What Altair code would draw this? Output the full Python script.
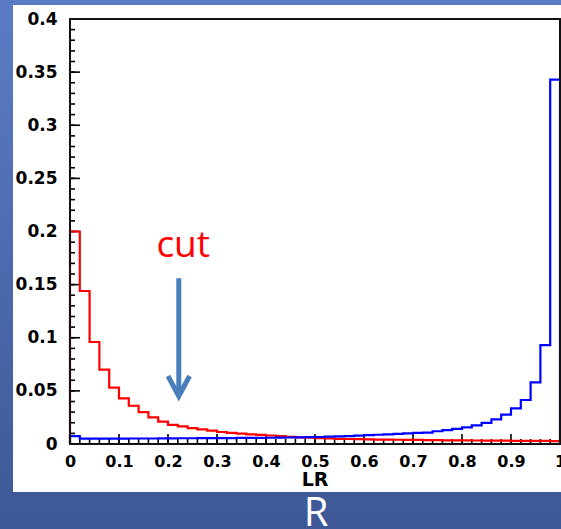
import altair as alt
import pandas as pd
import numpy as np

# ---- data ----
bin_width = 0.02
red_vals = [0.200, 0.144, 0.096, 0.070, 0.053, 0.043, 0.036, 0.030, 0.025, 0.021,
            0.018, 0.0165, 0.0150, 0.0138, 0.0125, 0.0113, 0.0104, 0.0097, 0.0091, 0.0086,
            0.0080, 0.0074, 0.0068, 0.0063, 0.0059, 0.0055, 0.0052, 0.0049, 0.0047, 0.0045,
            0.0043, 0.0042, 0.0041, 0.0040, 0.0039, 0.0038, 0.0037, 0.0036, 0.0035, 0.0034,
            0.0034, 0.0033, 0.0032, 0.0032, 0.0031, 0.0030, 0.0030, 0.0029, 0.0029, 0.0028]
blue_vals = [0.0075, 0.0050, 0.0050, 0.0051, 0.0051, 0.0051, 0.0052, 0.0052, 0.0052, 0.0053,
             0.0053, 0.0054, 0.0054, 0.0055, 0.0055, 0.0056, 0.0056, 0.0057, 0.0057, 0.0058,
             0.0059, 0.0060, 0.0061, 0.0062, 0.0064, 0.0066, 0.0069, 0.0072, 0.0075, 0.0079,
             0.0083, 0.0087, 0.0091, 0.0095, 0.0100, 0.0104, 0.0108, 0.0120, 0.0130, 0.0142,
             0.0156, 0.0176, 0.0198, 0.0232, 0.0276, 0.0336, 0.0414, 0.0580, 0.0930, 0.3430]
x_label_values = [0, 0.1, 0.2, 0.3, 0.4, 0.5, 0.6, 0.7, 0.8, 0.9, 1]
y_label_values = [0, 0.05, 0.1, 0.15, 0.2, 0.25, 0.3, 0.35, 0.4]
x_axis_title = "LR"
footer_text = "R"
cut_text = "cut"
cut_x = 0.222
cut_text_y = 0.176
cut_arrow_top = 0.156
cut_arrow_tip = 0.045

W, H = 490, 425

edges = [round(i * bin_width, 2) for i in range(len(red_vals))]


def outline(vals):
    xs = [0.0] + edges + [1.0, 1.0]
    ys = [0.0] + list(vals) + [vals[-1], 0.0]
    return pd.DataFrame({"x": xs, "y": ys, "i": range(len(xs))})


xs = alt.Scale(domain=[0, 1], nice=False, zero=False)
ys = alt.Scale(domain=[0, 0.4], nice=False)

lab_font = "DejaVu Sans"
x_axis = alt.Axis(values=x_label_values, format="~g", ticks=False, domain=False, grid=False,
                  labelFont=lab_font, labelFontWeight="bold", labelFontSize=16,
                  labelColor="black", labelPadding=9, title=None, labelFlush=False, zindex=2)
y_axis = alt.Axis(values=y_label_values, format="~g", ticks=False, domain=False, grid=False,
                  labelFont=lab_font, labelFontWeight="bold", labelFontSize=17,
                  labelColor="black", labelPadding=13, title=None, zindex=2)

# background gradient + white panel
bg = alt.Chart(pd.DataFrame({"a": [0]})).mark_rect(
    color=alt.Gradient(gradient="linear",
                       stops=[alt.GradientStop(color="#5b7cc5", offset=0),
                              alt.GradientStop(color="#3e5896", offset=1)],
                       x1=0, x2=0, y1=0, y2=1)
).encode(x=alt.value(-70), x2=alt.value(W + 1), y=alt.value(-19), y2=alt.value(H + 85))

panel = alt.Chart(pd.DataFrame({"a": [0]})).mark_rect(color="white").encode(
    x=alt.value(-57), x2=alt.value(W + 5), y=alt.value(-14), y2=alt.value(473))

# ticks
y_major = pd.DataFrame({"y": [round(v, 2) for v in np.arange(0, 0.4001, 0.05)]})
y_minor = pd.DataFrame({"y": [round(v, 2) for v in np.arange(0, 0.4001, 0.01)]})
x_major = pd.DataFrame({"x": [round(v, 2) for v in np.arange(0, 1.0001, 0.1)]})
x_minor = pd.DataFrame({"x": [round(v, 2) for v in np.arange(0, 1.0001, 0.02)]})

tick_y_major = alt.Chart(y_major).mark_rule(color="black", strokeWidth=1.6).encode(
    y=alt.Y("y:Q", scale=ys, axis=y_axis), x=alt.value(0), x2=alt.value(10))
tick_y_minor = alt.Chart(y_minor).mark_rule(color="black", strokeWidth=1.6).encode(
    y=alt.Y("y:Q", scale=ys, axis=y_axis), x=alt.value(0), x2=alt.value(5))
tick_x_major = alt.Chart(x_major).mark_rule(color="black", strokeWidth=1.6).encode(
    x=alt.X("x:Q", scale=xs, axis=x_axis), y=alt.value(H), y2=alt.value(H - 10))
tick_x_minor = alt.Chart(x_minor).mark_rule(color="black", strokeWidth=1.6).encode(
    x=alt.X("x:Q", scale=xs, axis=x_axis), y=alt.value(H), y2=alt.value(H - 5))


def hist(vals, color):
    return alt.Chart(outline(vals)).mark_line(
        interpolate="step-after", color=color, strokeWidth=2.2, clip=False
    ).encode(x=alt.X("x:Q", scale=xs, axis=x_axis),
             y=alt.Y("y:Q", scale=ys, axis=y_axis),
             order=alt.Order("i:Q"))


red = hist(red_vals, "#ff0000")
blue = hist(blue_vals, "#0000ff")

frame = alt.Chart(pd.DataFrame({"a": [0]})).mark_rect(
    fillOpacity=0, stroke="#111111", strokeWidth=2).encode(
    x=alt.value(0), x2=alt.value(W), y=alt.value(0), y2=alt.value(H))

# annotation: cut arrow
arrow_color = "#4a7ebb"
shaft = alt.Chart(pd.DataFrame({"x": [cut_x], "y": [cut_arrow_top], "y2": [cut_arrow_tip + 0.004]})).mark_rule(
    color=arrow_color, strokeWidth=5).encode(
    x=alt.X("x:Q", scale=xs, axis=x_axis), y=alt.Y("y:Q", scale=ys, axis=y_axis), y2="y2:Q")
head = alt.Chart(pd.DataFrame({"x": [cut_x - 0.022, cut_x, cut_x + 0.022],
                               "y": [cut_arrow_tip + 0.019, cut_arrow_tip, cut_arrow_tip + 0.019],
                               "i": [0, 1, 2]})).mark_line(
    color=arrow_color, strokeWidth=5, strokeJoin="miter").encode(
    x=alt.X("x:Q", scale=xs, axis=x_axis), y=alt.Y("y:Q", scale=ys, axis=y_axis),
    order=alt.Order("i:Q"))
cut_label = alt.Chart(pd.DataFrame({"x": [cut_x + 0.009], "y": [cut_text_y], "t": [cut_text]})).mark_text(
    color="#ff0000", font="Open Sans", fontSize=37, baseline="alphabetic", align="center").encode(
    x=alt.X("x:Q", scale=xs, axis=x_axis), y=alt.Y("y:Q", scale=ys, axis=y_axis), text="t:N")

title_lr = alt.Chart(pd.DataFrame({"x": [0.5], "t": [x_axis_title]})).mark_text(
    font=lab_font, fontWeight="bold", fontSize=19, color="black", baseline="alphabetic",
    align="center").encode(x=alt.X("x:Q", scale=xs, axis=x_axis), y=alt.value(467), text="t:N")

footer = alt.Chart(pd.DataFrame({"t": [footer_text]})).mark_text(
    font="Open Sans", fontSize=40, color="white", baseline="alphabetic", align="center").encode(
    x=alt.value(246), y=alt.value(507), text="t:N")

chart = alt.layer(
    bg, panel, tick_y_minor, tick_y_major, tick_x_minor, tick_x_major,
    red, blue, frame, shaft, head, cut_label, title_lr, footer
).properties(
    width=W, height=H,
    autosize=alt.AutoSizeParams(type="none"),
    padding={"left": 70, "top": 19, "right": 1, "bottom": 85},
).configure_view(stroke=None)

chart.save("out.html", embed_options={"renderer": "svg", "actions": False})
